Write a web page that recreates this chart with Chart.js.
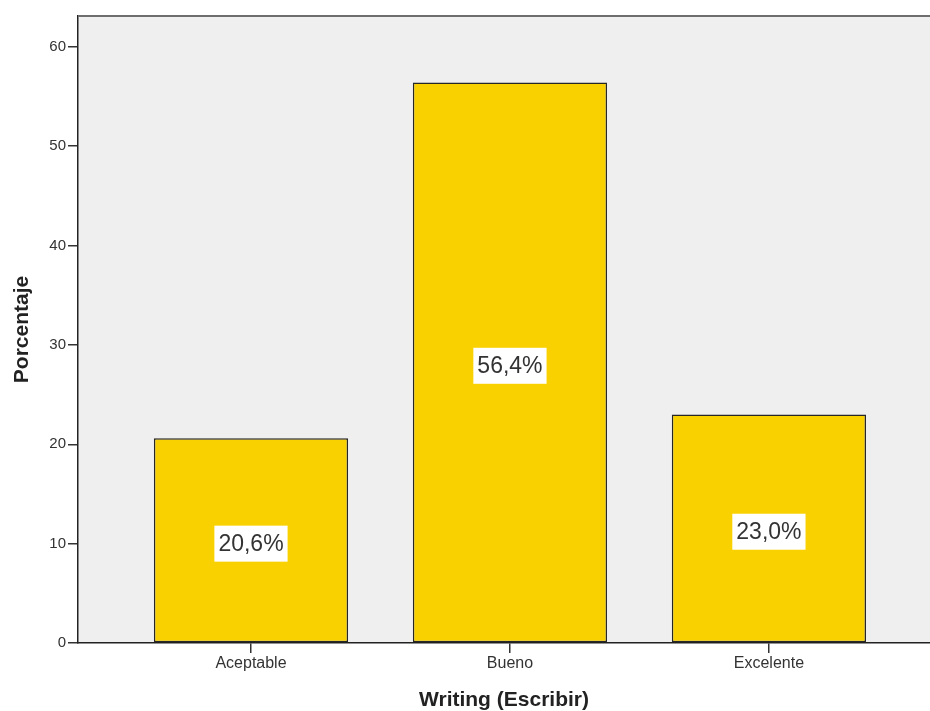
<!DOCTYPE html>
<html>
<head>
<meta charset="utf-8">
<script src="https://cdn.jsdelivr.net/npm/chart.js@4/dist/chart.umd.min.js"></script>
<style>
  html, body { margin: 0; padding: 0; background: #fff; }
  #wrap { width: 930px; height: 711px; }
</style>
</head>
<body>
<div id="wrap"><canvas id="chart" width="930" height="711"></canvas></div>
<script>
// chart data
const categories = ['Aceptable', 'Bueno', 'Excelente'];
const percentages = [20.6, 56.4, 23.0];
const yTicks = [0, 10, 20, 30, 40, 50, 60];
const yTitle = 'Porcentaje';
const xTitle = 'Writing (Escribir)';

const FONT = "'Liberation Sans', Arial, sans-serif";

// light gray plot background + top frame line
const plotBackground = {
  id: 'plotBackground',
  beforeDraw(chart) {
    const { ctx, chartArea: a } = chart;
    ctx.save();
    ctx.fillStyle = '#efefef';
    ctx.fillRect(a.left, a.top, a.right - a.left, a.bottom - a.top);
    ctx.restore();
  },
  afterDraw(chart) {
    const { ctx, chartArea: a } = chart;
    ctx.save();
    ctx.strokeStyle = '#6e6e6e';
    ctx.lineWidth = 2;
    ctx.beginPath();
    ctx.moveTo(a.left, a.top);
    ctx.lineTo(a.right, a.top);
    ctx.stroke();
    ctx.restore();
  }
};

// white boxed percentage labels in the middle of each bar
const barLabels = {
  id: 'barLabels',
  afterDatasetsDraw(chart) {
    const { ctx } = chart;
    const meta = chart.getDatasetMeta(0);
    const yScale = chart.scales.y;
    ctx.save();
    ctx.font = '23px ' + FONT;
    ctx.textAlign = 'center';
    ctx.textBaseline = 'middle';
    meta.data.forEach((bar, i) => {
      const v = percentages[i];
      const text = v.toFixed(1).replace('.', ',') + '%';
      const x = bar.x;
      const y = yScale.getPixelForValue(v / 2) + 3;
      const w = ctx.measureText(text).width + 8;
      const h = 36;
      ctx.fillStyle = '#ffffff';
      ctx.fillRect(x - w / 2, y - h / 2, w, h);
      ctx.fillStyle = '#333333';
      ctx.fillText(text, x, y + 1);
    });
    ctx.restore();
  }
};

new Chart(document.getElementById('chart').getContext('2d'), {
  type: 'bar',
  data: {
    datasets: [{
      data: percentages.map((v, i) => ({ x: i, y: v })),
      backgroundColor: '#f9d100',
      borderColor: '#262626',
      borderWidth: 1.5,
      borderSkipped: false,
      categoryPercentage: 1,
      barPercentage: 0.75
    }]
  },
  options: {
    responsive: false,
    animation: false,
    layout: { padding: { top: 16, right: 0, left: 0, bottom: 0 } },
    plugins: { legend: { display: false }, tooltip: { enabled: false } },
    scales: {
      x: {
        type: 'linear',
        offset: false,
        min: -0.668,
        max: 2.622,
        afterBuildTicks: scale => { scale.ticks = categories.map((c, i) => ({ value: i })); },
        afterFit: scale => { scale.height = 68; },
        ticks: {
          callback: v => categories[v],
          color: '#333',
          font: { family: FONT, size: 16 },
          padding: 1,
          maxRotation: 0
        },
        grid: { offset: false, drawOnChartArea: false, tickLength: 10, color: '#333', lineWidth: 1.5 },
        border: { color: '#222', width: 1.5 },
        title: {
          display: true,
          text: xTitle,
          color: '#222',
          font: { family: FONT, size: 21, weight: 'bold', lineHeight: 1 },
          padding: { top: 0, bottom: 0 }
        }
      },
      y: {
        min: 0,
        max: 63.1,
        afterBuildTicks: scale => { scale.ticks = yTicks.map(v => ({ value: v })); },
        afterFit: scale => { scale.width = 78; },
        ticks: {
          color: '#333',
          font: { family: FONT, size: 15 },
          padding: 2
        },
        grid: { drawOnChartArea: false, tickLength: 10, color: '#333', lineWidth: 1.5 },
        border: { color: '#222', width: 1.5 },
        title: {
          display: true,
          text: yTitle,
          color: '#222',
          font: { family: FONT, size: 21, weight: 'bold', lineHeight: 1 },
          padding: { top: 12, bottom: 0 }
        }
      }
    }
  },
  plugins: [plotBackground, barLabels]
});
</script>
</body>
</html>
